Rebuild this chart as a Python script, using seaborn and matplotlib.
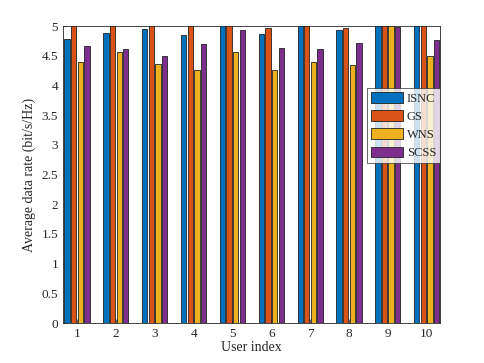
import numpy as np
import pandas as pd
import seaborn as sns
import matplotlib.pyplot as plt

# data (values above 5 are clipped by the axis)
users = [1, 2, 3, 4, 5, 6, 7, 8, 9, 10]
isnc = [4.79, 4.89, 4.95, 4.85, 5.10, 4.87, 5.10, 4.93, 5.10, 5.10]
gs = [5.20, 5.20, 5.20, 5.20, 5.20, 4.97, 5.20, 4.97, 5.20, 5.20]
wns = [4.39, 4.56, 4.37, 4.26, 4.56, 4.26, 4.39, 4.34, 5.05, 4.50]
scss = [4.66, 4.61, 4.50, 4.70, 4.93, 4.63, 4.61, 4.71, 4.98, 4.77]
schemes = ["ISNC", "GS", "WNS", "SCSS"]
colors = ["#0072BD", "#D95319", "#EDB120", "#7E2F8E"]

df = pd.DataFrame({
    "user": users * 4,
    "rate": isnc + gs + wns + scss,
    "scheme": np.repeat(schemes, len(users)),
})

sns.set_style("ticks")
plt.rcParams["font.family"] = ["Liberation Serif", "DejaVu Serif"]

fig = plt.figure(figsize=(4.85, 3.63), dpi=100)
ax = fig.add_axes([0.13, 0.11, 0.777, 0.818])

sns.barplot(data=df, x="user", y="rate", hue="scheme", palette=colors,
            saturation=1, width=0.68, edgecolor="#222222", linewidth=0.6, ax=ax)

# leave small gaps between bars like the MATLAB original
for p in ax.patches:
    w = p.get_width()
    if w > 0:
        p.set_x(p.get_x() + w * 0.1)
        p.set_width(w * 0.8)

ax.set_ylim(0, 5)
ax.set_xlim(-0.36, 9.34)
ax.set_yticks(np.arange(0, 5.01, 0.5))
ax.set_yticklabels(["0", "0.5", "1", "1.5", "2", "2.5", "3", "3.5", "4", "4.5", "5"])
ax.set_xticks(range(len(users)))
ax.set_xticklabels([str(u) for u in users])
ax.tick_params(direction="in", length=3, width=0.5, labelsize=9.5,
               colors="#262626", top=False, right=False)
for s in ax.spines.values():
    s.set_linewidth(0.6)
    s.set_color("#262626")
    s.set_visible(True)

ax.set_xlabel("User index", fontsize=10, color="#262626", labelpad=1)
ax.set_ylabel("Average data rate (bit/s/Hz)", fontsize=10, color="#262626", labelpad=4)

leg = ax.legend(loc="upper right", bbox_to_anchor=(1.0, 0.79), fontsize=9,
                frameon=True, fancybox=False, edgecolor="#262626",
                handlelength=2.6, handleheight=0.9, handletextpad=0.3,
                labelspacing=0.45, borderpad=0.3, borderaxespad=0.0)
leg.get_frame().set_linewidth(0.6)

fig.savefig("out.png", dpi=100)
